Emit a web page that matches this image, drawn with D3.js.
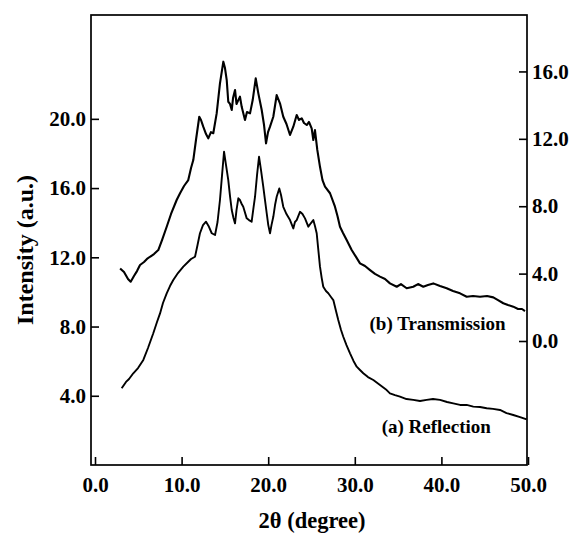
<!DOCTYPE html>
<html>
<head>
<meta charset="utf-8">
<script src="https://cdn.jsdelivr.net/npm/d3@7"></script>
<style>
body { margin: 0; background: #fff; }
text { font-family: "Liberation Serif", "Times New Roman", serif; font-weight: bold; fill: #000; }
</style>
</head>
<body>
<div id="chart"></div>
<script>
'use strict';

// 2theta (degree), intensity on the right axis
let transmission = [
	[2.9, 4.31], [3.35, 4.09], [3.81, 3.68], [4.12, 3.52], [4.5, 3.86], [4.85, 4.15], [5.2, 4.51],
	[5.66, 4.69], [6.0, 4.87], [6.35, 5.0], [6.81, 5.16], [7.31, 5.4], [7.74, 5.99], [8.28, 6.78],
	[8.78, 7.54], [9.43, 8.37], [9.82, 8.77], [10.28, 9.2], [10.77, 9.55], [11.09, 10.27], [11.35, 10.74],
	[11.66, 11.93], [12.04, 13.31], [12.24, 13.12], [12.5, 12.72], [12.82, 12.28], [13.08, 12.03],
	[13.39, 12.4], [13.66, 12.33], [14.05, 13.51], [14.43, 15.29], [14.82, 16.58], [15.01, 16.2],
	[15.21, 15.49], [15.39, 14.2], [15.59, 14.07], [15.79, 13.71], [15.94, 14.42], [16.17, 14.9],
	[16.34, 14.07], [16.55, 14.3], [16.74, 14.5], [16.94, 13.9], [17.32, 13.12], [17.55, 13.59],
	[17.9, 13.51], [18.21, 14.3], [18.56, 15.59], [18.86, 14.7], [19.25, 13.71], [19.52, 12.82],
	[19.75, 11.73], [19.98, 12.4], [20.21, 12.72], [20.59, 13.31], [20.98, 14.6], [21.36, 14.11],
	[21.74, 13.31], [22.11, 12.88], [22.52, 12.23], [22.9, 12.72], [23.29, 13.41], [23.56, 13.12],
	[23.87, 13.22], [24.13, 12.94], [24.45, 12.82], [24.71, 13.0], [25.02, 12.62], [25.21, 11.93],
	[25.4, 12.52], [25.67, 11.34], [25.98, 10.34], [26.27, 9.55], [26.56, 9.16], [27.14, 8.77],
	[27.71, 7.97], [28.0, 7.42], [28.29, 6.78], [28.64, 6.41], [29.06, 5.99], [29.64, 5.4],
	[30.14, 4.99], [30.6, 4.61], [31.18, 4.45], [31.76, 4.21], [32.33, 3.98], [32.91, 3.82],
	[33.49, 3.68], [34.06, 3.42], [34.84, 3.22], [35.33, 3.38], [35.99, 3.13], [36.75, 3.22],
	[37.3, 3.38], [37.91, 3.22], [38.45, 3.32], [39.06, 3.42], [39.84, 3.26], [40.61, 3.13],
	[41.34, 2.97], [42.15, 2.83], [42.92, 2.63], [43.65, 2.67], [44.46, 2.63], [45.27, 2.67],
	[45.99, 2.59], [46.54, 2.43], [47.15, 2.24], [47.69, 2.14], [48.3, 2.04], [48.85, 1.9],
	[49.31, 1.9], [49.65, 1.78]
];

// 2theta (degree), intensity on the left axis
let reflection = [
	[3.08, 4.43], [3.58, 4.8], [3.93, 4.97], [4.42, 5.3], [4.97, 5.6], [5.58, 6.07], [6.12, 6.76],
	[6.73, 7.61], [7.16, 8.26], [7.51, 8.76], [7.85, 9.36], [8.28, 9.92], [8.66, 10.34], [9.04, 10.69],
	[9.58, 11.09], [10.2, 11.46], [10.74, 11.73], [11.09, 11.9], [11.55, 12.03], [11.84, 12.71],
	[12.12, 13.39], [12.47, 13.86], [12.82, 14.06], [13.11, 13.81], [13.48, 13.39], [13.86, 13.29],
	[14.15, 14.04], [14.43, 15.31], [14.67, 16.75], [14.9, 18.1], [15.13, 17.33], [15.39, 16.46],
	[15.59, 15.54], [15.79, 14.73], [15.99, 14.27], [16.17, 13.96], [16.34, 14.73], [16.55, 15.41],
	[16.74, 15.31], [16.94, 15.08], [17.12, 14.92], [17.52, 14.25], [17.78, 14.15], [18.09, 14.06],
	[18.3, 14.85], [18.48, 15.5], [18.71, 16.75], [18.94, 17.81], [19.17, 17.04], [19.43, 16.08],
	[19.63, 15.31], [19.83, 14.54], [20.01, 13.86], [20.21, 13.39], [20.38, 13.86], [20.59, 14.34],
	[20.79, 15.02], [20.98, 15.5], [21.28, 15.98], [21.48, 15.6], [21.74, 14.92], [22.11, 14.5],
	[22.52, 14.15], [22.9, 13.67], [23.09, 14.04], [23.29, 14.15], [23.67, 14.63], [23.96, 14.5],
	[24.25, 14.25], [24.63, 13.77], [24.94, 13.98], [25.21, 14.15], [25.4, 13.81], [25.6, 13.39],
	[25.79, 12.42], [25.98, 11.46], [26.18, 10.8], [26.36, 10.3], [26.67, 10.05], [26.94, 9.92],
	[27.25, 9.71], [27.52, 9.53], [27.83, 8.9], [28.09, 8.38], [28.41, 7.8], [28.67, 7.41],
	[29.04, 6.93], [29.45, 6.45], [29.85, 6.01], [30.22, 5.68], [30.6, 5.49], [30.98, 5.3],
	[31.52, 5.08], [32.14, 4.91], [32.91, 4.62], [33.68, 4.33], [34.06, 4.14], [34.64, 4.04],
	[35.22, 3.95], [35.97, 3.81], [36.75, 3.76], [37.53, 3.7], [38.3, 3.76], [39.03, 3.81],
	[39.84, 3.76], [40.65, 3.64], [41.37, 3.56], [42.15, 3.47], [42.92, 3.47], [43.68, 3.37],
	[44.46, 3.35], [45.23, 3.28], [45.96, 3.24], [46.77, 3.18], [47.52, 3.0], [48.3, 2.89],
	[49.08, 2.77], [49.85, 2.63]
];

let xTicks = [0, 10, 20, 30, 40, 50];
let leftTicks = [4, 8, 12, 16, 20];
let rightTicks = [0, 4, 8, 12, 16];

let W = 573, H = 533;
let box = {left: 91, right: 527, top: 15, bottom: 465};

let x = d3.scaleLinear().domain([0, 50]).range([95, 528]);
let yl = d3.scaleLinear().domain([0, 26]).range([box.bottom, box.top]);
let yr = d3.scaleLinear().domain([-7.36, 19.35]).range([box.bottom, box.top]);

let svg = d3.select('#chart')
	.append('svg')
		.attr('width', W)
		.attr('height', H)
	;

let fmt = d3.format('.1f');
let tickLen = 8;
let tickFont = 21;

// frame
svg.append('rect')
	.attr('x', box.left)
	.attr('y', box.top)
	.attr('width', box.right - box.left)
	.attr('height', box.bottom - box.top)
	.attr('fill', 'none')
	.attr('stroke', '#000')
	.attr('stroke-width', 1.7)
	;

function style_axis(g) {
	g.select('.domain').remove();
	g.selectAll('line').attr('stroke', '#000').attr('stroke-width', 1.6);
	g.selectAll('text').attr('font-size', tickFont).attr('font-family', null);
}

// bottom axis
let gx = svg.append('g')
	.attr('transform', 'translate(0,' + box.bottom + ')')
	.call(d3.axisBottom(x).tickValues(xTicks).tickFormat(fmt).tickSizeInner(-tickLen).tickSizeOuter(0).tickPadding(12))
	;
style_axis(gx);

// left axis
let gl = svg.append('g')
	.attr('transform', 'translate(' + box.left + ',0)')
	.call(d3.axisLeft(yl).tickValues(leftTicks).tickFormat(fmt).tickSizeInner(-tickLen).tickSizeOuter(0).tickPadding(5))
	;
style_axis(gl);

// right axis
let gr = svg.append('g')
	.attr('transform', 'translate(' + box.right + ',0)')
	.call(d3.axisRight(yr).tickValues(rightTicks).tickFormat(fmt).tickSizeInner(-tickLen).tickSizeOuter(0).tickPadding(5))
	;
style_axis(gr);

// curves
let lineL = d3.line().x(d => x(d[0])).y(d => yl(d[1]));
let lineR = d3.line().x(d => x(d[0])).y(d => yr(d[1]));

svg.append('path')
	.datum(transmission)
	.attr('d', lineR)
	.attr('fill', 'none')
	.attr('stroke', '#000')
	.attr('stroke-width', 2.1)
	.attr('stroke-linejoin', 'round')
	;
svg.append('path')
	.datum(reflection)
	.attr('d', lineL)
	.attr('fill', 'none')
	.attr('stroke', '#000')
	.attr('stroke-width', 1.9)
	.attr('stroke-linejoin', 'round')
	;

// curve labels
svg.append('text')
	.attr('x', x(31.7))
	.attr('y', yr(0.65))
	.attr('font-size', 19)
	.text('(b) Transmission')
	;
svg.append('text')
	.attr('x', x(33.1))
	.attr('y', yl(1.85))
	.attr('font-size', 19)
	.text('(a) Reflection')
	;

// axis titles
svg.append('text')
	.attr('x', 312)
	.attr('y', 528)
	.attr('text-anchor', 'middle')
	.attr('font-size', 22.5)
	.text('2θ (degree)')
	;
svg.append('text')
	.attr('transform', 'translate(33,250) rotate(-90)')
	.attr('text-anchor', 'middle')
	.attr('font-size', 24)
	.text('Intensity (a.u.)')
	;
</script>
</body>
</html>
